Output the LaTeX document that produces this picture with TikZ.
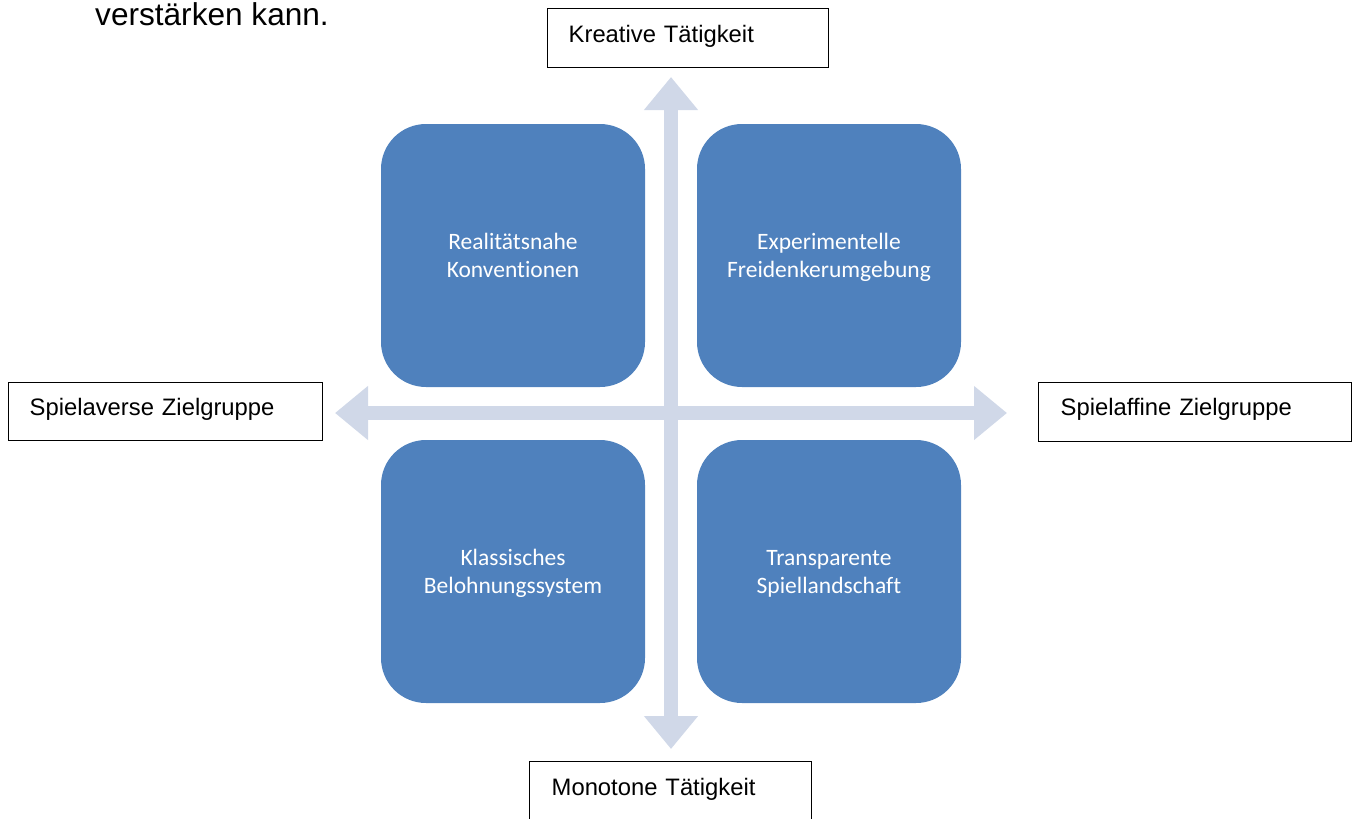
\documentclass[tikz,border=0pt]{standalone}
\usepackage{fontspec}
\setmainfont[Ligatures=NoCommon]{Liberation Sans}
\newfontfamily\boxfont[Ligatures=NoCommon]{Carlito}
\usetikzlibrary{arrows.meta}
\definecolor{quadblue}{HTML}{4F81BD}
\definecolor{axisgray}{HTML}{D0D8E8}
\begin{document}
\begin{tikzpicture}[x=1pt,y=-1pt,
  quad/.style={fill=quadblue, draw=none, rounded corners=45pt,
    minimum width=264pt, minimum height=263pt, inner sep=0pt,
    text=white, align=center, text depth=0pt,
    font=\boxfont\fontsize{23.5pt}{28pt}\selectfont},
  axis/.style={draw=axisgray, line width=14pt,
    {Triangle[width=52pt,length=33pt]}-{Triangle[width=52pt,length=33pt]}},
  labelbox/.style={draw=black, line width=1.4pt, anchor=north west,
    inner ysep=0pt, align=left,
    font=\fontsize{23.8pt}{28pt}\selectfont}
]
\useasboundingbox (0,0) rectangle (1352,819);

% running text above the figure
\node[anchor=base west, inner sep=0pt, font=\fontsize{31.6pt}{36pt}\selectfont]
  (caption) at (95,25) {verstärken kann.};

% axis end points
\coordinate (top) at (671,77);
\coordinate (bottom) at (671,749);
\coordinate (west) at (335,413);
\coordinate (east) at (1007,413);

% the two crossing axes
\draw[axis] (bottom) -- (top);
\draw[axis] (west) -- (east);

% the four quadrants
\node[quad] (q1) at (513,255.5) {Realitätsnahe\\Konventionen};
\node[quad] (q2) at (829,255.5) {Experimentelle\\Freidenkerumgebung};
\node[quad] (q3) at (513,571.5) {Klassisches\\Belohnungssystem};
\node[quad] (q4) at (829,571.5) {Transparente\\Spiellandschaft};

% axis labels
\node[labelbox, inner xsep=21pt, text width=239pt, text height=34pt, text depth=25pt]
  (creative) at (547,8) {Kreative Tätigkeit};
\node[labelbox, inner xsep=21pt, text width=272pt, text height=33pt, text depth=25pt]
  (averse) at (8,382) {Spielaverse Zielgruppe};
\node[labelbox, inner xsep=22pt, text width=269pt, text height=33pt, text depth=26pt]
  (affine) at (1038,382) {Spielaffine Zielgruppe};
\node[labelbox, inner xsep=22pt, text width=238pt, text height=34pt, text depth=32pt]
  (monotone) at (529,761) {Monotone Tätigkeit};
\end{tikzpicture}
\end{document}
